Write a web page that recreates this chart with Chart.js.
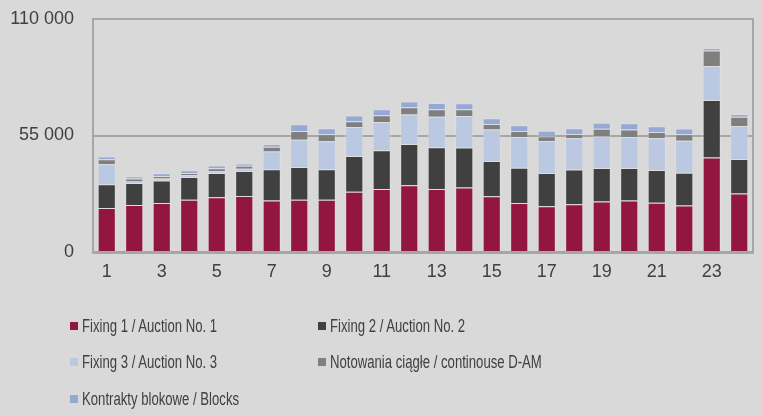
<!DOCTYPE html>
<html>
<head>
<meta charset="utf-8">
<script src="https://cdn.jsdelivr.net/npm/chart.js@4/dist/chart.umd.min.js"></script>
<style>
    body { margin: 0; background: #d9d9d9; }
    #wrap { position: relative; width: 762px; height: 416px; background: #d9d9d9; }
    #box { position: absolute; left: 0; top: 0; width: 762px; height: 292px; }
    #legend { position: absolute; left: 0; top: 0; width: 762px; height: 416px; pointer-events: none;
        font-family: "Liberation Sans", Arial, sans-serif; font-size: 18px; color: #404040; }
    .item { position: absolute; white-space: nowrap; line-height: 20px; }
    .item span.sq { position: absolute; left: 0; top: 6px; width: 8px; height: 8px; }
    .item span.tx { position: absolute; left: 12px; top: 0; transform: scaleX(0.73); transform-origin: 0 50%; }
</style>
</head>
<body>
<div id="wrap">
    <div id="box"><canvas id="chart"></canvas></div>
    <div id="legend"></div>
</div>
<script>
// hours of the day
const hours = ['1', '2', '3', '4', '5', '6', '7', '8', '9', '10', '11', '12',
    '13', '14', '15', '16', '17', '18', '19', '20', '21', '22', '23', '24'];

// volumes per segment
const fixing1 = [20800, 22200, 23100, 24700, 25800, 26400, 24300, 24700, 24700, 28500, 29700, 31500,
    29700, 30400, 26300, 23100, 21600, 22500, 23800, 24300, 23300, 22000, 44600, 27600];
const fixing2 = [11200, 10400, 10600, 10700, 11500, 11800, 14800, 15400, 14400, 16800, 18300, 19500,
    19700, 18900, 16700, 16700, 15700, 16400, 15900, 15400, 15400, 15400, 27200, 16300];
const fixing3 = [9400, 700, 950, 800, 800, 1100, 8400, 12900, 13200, 13700, 13400, 13900,
    14500, 14900, 14800, 14500, 15100, 14800, 15000, 14600, 15000, 15100, 16000, 15600];
const continuous = [2400, 1400, 1200, 1100, 1400, 1400, 2200, 4100, 3300, 2700, 3200, 3400,
    3500, 3200, 2600, 2800, 2200, 2000, 3500, 3500, 3000, 3100, 7300, 4400];
const blocks = [1300, 1100, 1300, 1300, 1300, 1100, 1300, 3200, 2800, 2800, 2800, 2800,
    3000, 2800, 2800, 2700, 2700, 2700, 2800, 3000, 2700, 2700, 1200, 1200];

const yTicks = [0, 55000, 110000];

const seriesNames = ['Fixing 1 / Auction No. 1', 'Fixing 2 / Auction No. 2', 'Fixing 3 / Auction No. 3',
    'Notowania ciągłe / continouse D-AM', 'Kontrakty blokowe / Blocks'];
const seriesColors = ['#921640', '#404040', '#bac8e1', '#7f7f7f', '#94aad4'];
const seriesData = [fixing1, fixing2, fixing3, continuous, blocks];

const fontFamily = '"Liberation Sans", Arial, sans-serif';

// outline round the plot area
const plotBorder = {
    id: 'plotBorder',
    beforeDatasetsDraw(chart) {
        const a = chart.chartArea;
        const ctx = chart.ctx;
        ctx.save();
        ctx.strokeStyle = '#a6a6a6';
        ctx.lineWidth = 2;
        ctx.strokeRect(a.left, a.top, a.right - a.left, a.bottom - a.top);
        ctx.restore();
    }
};

const chart = new Chart(document.getElementById('chart'), {
    type: 'bar',
    data: {
        labels: hours,
        datasets: seriesData.map((d, i) => ({
            label: seriesNames[i],
            data: d,
            backgroundColor: seriesColors[i],
            borderColor: 'rgba(230,230,230,0.35)',
            borderWidth: 1,
            barPercentage: 0.66,
            categoryPercentage: 1
        }))
    },
    options: {
        responsive: true,
        maintainAspectRatio: false,
        animation: false,
        layout: { padding: { top: 19, right: 9, left: 0, bottom: 0 } },
        plugins: {
            legend: { display: false },
            tooltip: { enabled: false }
        },
        scales: {
            x: {
                stacked: true,
                grid: { display: false, drawTicks: false },
                border: { color: '#a6a6a6', width: 3 },
                ticks: {
                    autoSkip: false,
                    maxRotation: 0,
                    padding: 9,
                    color: '#404040',
                    font: { family: fontFamily, size: 18 },
                    callback: (v, i) => (i % 2 === 0 ? hours[i] : '')
                },
                afterFit: s => { s.height = 40; }
            },
            y: {
                stacked: true,
                min: 0,
                max: 110000,
                afterBuildTicks: s => { s.ticks = yTicks.map(v => ({ value: v })); },
                grid: { color: '#a6a6a6', lineWidth: 2, drawTicks: true, tickLength: 19, tickColor: 'rgba(0,0,0,0)' },
                border: { color: '#a6a6a6', width: 2 },
                ticks: {
                    padding: 0,
                    color: '#404040',
                    font: { family: fontFamily, size: 18 },
                    callback: v => v.toString().replace(/\B(?=(\d{3})+(?!\d))/g, ' ')
                },
                afterFit: s => { s.width = 93; }
            }
        }
    },
    plugins: [plotBorder]
});

// legend in two columns, built from the datasets
const legendPos = [[70, 316], [318, 316], [70, 352], [318, 352], [70, 389]];
const legend = document.getElementById('legend');
chart.data.datasets.forEach((ds, i) => {
    const el = document.createElement('div');
    el.className = 'item';
    el.style.left = legendPos[i][0] + 'px';
    el.style.top = legendPos[i][1] + 'px';
    el.innerHTML = '<span class="sq" style="background:' + ds.backgroundColor + '"></span><span class="tx">' + ds.label + '</span>';
    legend.appendChild(el);
});
</script>
</body>
</html>
